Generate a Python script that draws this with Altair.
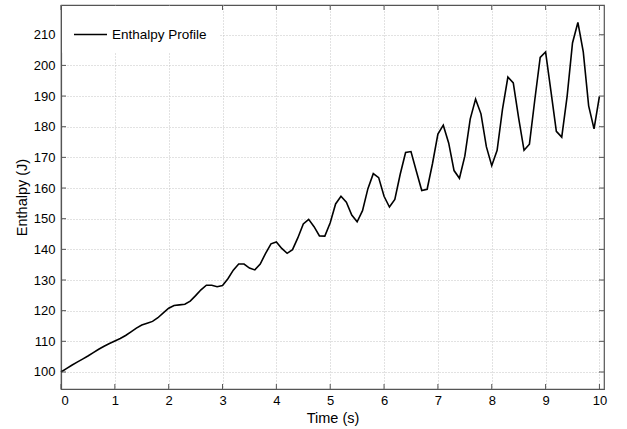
import altair as alt
import pandas as pd

time_s = [round(i * 0.1, 1) for i in range(101)]
enthalpy = [
    100.0, 101.1, 102.2, 103.2, 104.2, 105.2, 106.3, 107.4, 108.4, 109.3,
    110.1, 110.9, 111.9, 113.1, 114.3, 115.3, 115.9, 116.5, 117.7, 119.3,
    120.8, 121.7, 121.9, 122.1, 123.1, 124.9, 126.8, 128.3, 128.3, 127.8,
    128.2, 130.4, 133.2, 135.2, 135.2, 133.9, 133.3, 135.2, 138.7, 141.8,
    142.4, 140.3, 138.7, 139.9, 143.8, 148.3, 149.8, 147.4, 144.4, 144.3,
    148.7, 154.8, 157.3, 155.4, 151.2, 149.0, 152.6, 159.8, 164.7, 163.4,
    157.3, 153.8, 156.3, 164.5, 171.6, 171.9, 165.5, 159.2, 159.6, 168.0,
    177.6, 180.5, 174.7, 165.7, 163.2, 170.4, 182.5, 189.0, 184.2, 173.5,
    167.3, 172.3, 185.7, 196.2, 194.3, 182.8, 172.3, 174.3, 188.8, 202.6,
    204.4, 191.5, 178.5, 176.6, 189.9, 207.3, 214.0, 204.4, 186.8, 179.3,
    189.9,
]
series_name = ["Enthalpy Profile"]
x_ticks = list(range(0, 11))
y_ticks = list(range(100, 211, 10))

X_DOMAIN = [0, 10.085]
Y_DOMAIN = [94.45, 219.7]
W, H = 543, 384
FONT = "Liberation Sans"
BOX = "#555555"

df = pd.DataFrame({"t": time_s, "h": enthalpy, "s": series_name * len(time_s)})
xt = pd.DataFrame({"v": x_ticks})
yt = pd.DataFrame({"v": y_ticks})

xs = alt.Scale(domain=X_DOMAIN, nice=False, zero=False)
ys = alt.Scale(domain=Y_DOMAIN, nice=False, zero=False)
x_axis = alt.Axis(values=x_ticks, format="d", ticks=False, labelPadding=5,
                  titlePadding=4, grid=True)
y_axis = alt.Axis(values=y_ticks, format="d", ticks=False, labelPadding=6,
                  titlePadding=4, grid=True)

line = alt.Chart(df).mark_line(strokeWidth=1.6).encode(
    x=alt.X("t:Q", scale=xs, title="Time (s)", axis=x_axis),
    y=alt.Y("h:Q", scale=ys, title="Enthalpy (J)", axis=y_axis),
    color=alt.Color("s:N", scale=alt.Scale(range=["#000000"]),
                    legend=alt.Legend(title=None, orient="none", legendX=1, legendY=1,
                                      symbolType="stroke", symbolSize=1089,
                                      symbolStrokeWidth=1.6, labelFontSize=13.5,
                                      labelFont=FONT, labelColor="#000000",
                                      labelOffset=4, padding=11, fillColor="white",
                                      strokeColor="white")),
)

tick_len = 5
tb = alt.Chart(xt).mark_rule(color=BOX, strokeWidth=1).encode(
    x=alt.X("v:Q", scale=xs, title="Time (s)", axis=x_axis),
    y=alt.value(H), y2=alt.value(H - tick_len))
tt = alt.Chart(xt).mark_rule(color=BOX, strokeWidth=1).encode(
    x=alt.X("v:Q", scale=xs, title="Time (s)", axis=x_axis),
    y=alt.value(0), y2=alt.value(tick_len))
tl = alt.Chart(yt).mark_rule(color=BOX, strokeWidth=1).encode(
    y=alt.Y("v:Q", scale=ys, title="Enthalpy (J)", axis=y_axis),
    x=alt.value(0), x2=alt.value(tick_len))
tr = alt.Chart(yt).mark_rule(color=BOX, strokeWidth=1).encode(
    y=alt.Y("v:Q", scale=ys, title="Enthalpy (J)", axis=y_axis),
    x=alt.value(W), x2=alt.value(W - tick_len))

chart = alt.layer(line, tb, tt, tl, tr).properties(
    width=W, height=H,
    background="white",
    autosize=alt.AutoSizeParams(type="none"),
    padding={"left": 61, "top": 5, "right": 627 - 61 - W, "bottom": 429 - 5 - H},
).configure_view(
    stroke=BOX, strokeWidth=1.2
).configure_axis(
    labelFont=FONT, titleFont=FONT, labelFontSize=13, titleFontSize=14.5,
    labelColor="#000000", titleColor="#000000", titleFontWeight="normal",
    domainColor=BOX, domainWidth=1.2,
    gridColor="#c4c4c4", gridDash=[1, 2], gridWidth=1,
)

chart.save("out.html", embed_options={"renderer": "svg", "actions": False})
